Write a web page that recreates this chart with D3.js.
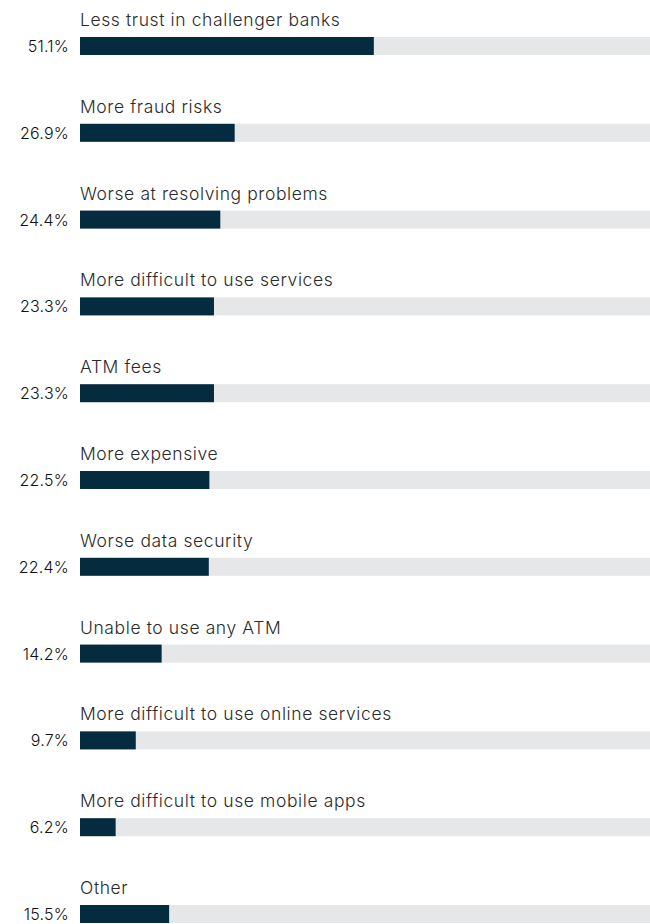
<!DOCTYPE html>
<html>
<head>
<meta charset="utf-8">
<script src="https://cdn.jsdelivr.net/npm/d3@7"></script>
<style>
  html, body { margin: 0; padding: 0; background: #ffffff; }
  svg { display: block; }
</style>
</head>
<body>
<div id="chart"></div>
<script>
// Reasons given for not switching to a challenger bank (% of respondents)
const categories = [
  "Less trust in challenger banks",
  "More fraud risks",
  "Worse at resolving problems",
  "More difficult to use services",
  "ATM fees",
  "More expensive",
  "Worse data security",
  "Unable to use any ATM",
  "More difficult to use online services",
  "More difficult to use mobile apps",
  "Other"
];
const values = [51.1, 26.9, 24.4, 23.3, 23.3, 22.5, 22.4, 14.2, 9.7, 6.2, 15.5];

const width = 650, height = 924;
const barH = 18;

const svg = d3.select("#chart").append("svg")
  .attr("width", width)
  .attr("height", height);

const x = d3.scaleLinear().domain([0, 100]).range([80, 655]);
const y = d3.scaleLinear().domain([0, categories.length - 1]).range([37, 905]);

const rows = svg.selectAll("g.row")
  .data(categories.map((c, i) => ({ c, v: values[i], i })))
  .join("g")
  .attr("class", "row")
  .attr("transform", d => `translate(0,${y(d.i)})`);

// full-width track
rows.append("rect")
  .attr("x", x(0))
  .attr("y", 0)
  .attr("width", x(100) - x(0))
  .attr("height", barH)
  .attr("fill", "#e6e7e9");

// value bar
rows.append("rect")
  .attr("x", x(0))
  .attr("y", 0)
  .attr("width", d => x(d.v) - x(0))
  .attr("height", barH)
  .attr("fill", "#052b3e");

// category label above the bar
rows.append("text")
  .attr("x", x(0))
  .attr("y", -11)
  .attr("font-family", "Inter, 'Noto Sans', sans-serif")
  .attr("font-weight", 300)
  .attr("font-size", 17.5)
  .attr("letter-spacing", 0.6)
  .attr("fill", "#2b2b2b")
  .text(d => d.c);

// percentage to the left of the bar
rows.append("text")
  .attr("x", 69)
  .attr("y", 15)
  .attr("text-anchor", "end")
  .attr("font-family", "Inter, 'Noto Sans', sans-serif")
  .attr("font-weight", 300)
  .attr("font-size", 16)
  .attr("letter-spacing", 0.2)
  .attr("fill", "#111111")
  .text(d => d.v.toFixed(1) + "%");
</script>
</body>
</html>
